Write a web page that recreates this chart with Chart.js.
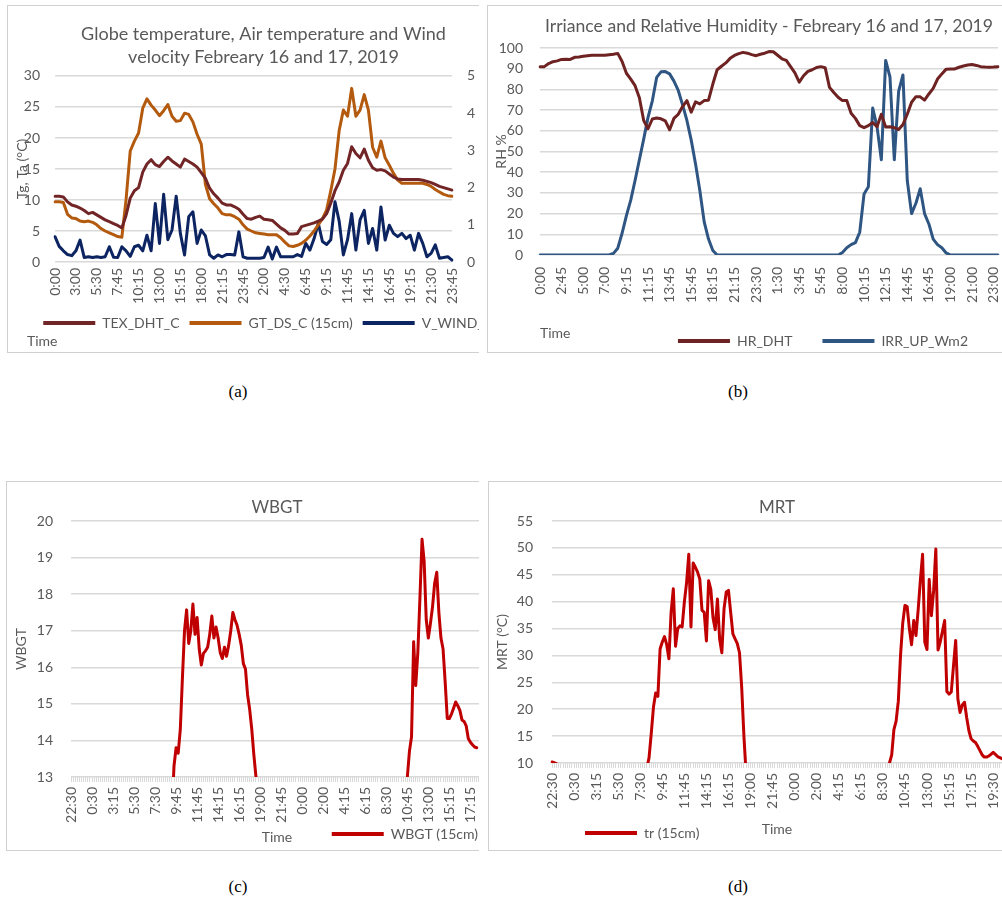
<!DOCTYPE html>
<html><head><meta charset="utf-8">
<script src="https://cdn.jsdelivr.net/npm/chart.js@4/dist/chart.umd.min.js"></script>
<style>
html,body{margin:0;padding:0;background:#fff;width:1002px;height:903px;overflow:hidden;}
.panel{position:absolute;border:1px solid #d0d0d0;overflow:hidden;background:#fff;box-sizing:border-box;}
.panel canvas{position:absolute;left:-1px;top:-1px;}
.cap{position:absolute;font-family:"Liberation Serif","Times New Roman",serif;font-size:17px;color:#000;transform:translateX(-50%);line-height:20px;}
</style></head><body>
<div class="panel" style="left:7px;top:5px;width:472px;height:348px;border-right:none;"><canvas id="ca" width="493" height="347"></canvas></div>
<div class="panel" style="left:487px;top:5px;width:540px;height:348px;"><canvas id="cb" width="530" height="347"></canvas></div>
<div class="panel" style="left:6px;top:481px;width:473px;height:370px;border-right:none;"><canvas id="cc" width="477" height="369"></canvas></div>
<div class="panel" style="left:488px;top:481px;width:540px;height:370px;"><canvas id="cd" width="514" height="369"></canvas></div>
<div class="cap" style="left:238px;top:382px;">(a)</div>
<div class="cap" style="left:738px;top:382px;">(b)</div>
<div class="cap" style="left:238px;top:877px;">(c)</div>
<div class="cap" style="left:738px;top:877px;">(d)</div>
<script>
// ---------- (a) Globe temperature, air temperature, wind ----------
const aTickLabels = ['0:00','3:00','5:30','7:45','10:15','13:00','15:15','18:00','21:15','23:45','2:00','4:30','6:45','9:15','11:45','14:15','16:45','19:15','21:30','23:45'];
const aTex = [10.6,10.6,10.5,9.7,9.2,9.0,8.7,8.3,7.8,8.0,7.6,7.2,6.8,6.5,6.2,5.9,5.5,7.5,10.3,11.5,
  12.0,14.5,15.8,16.5,15.7,15.4,16.2,16.9,16.3,15.8,15.3,16.6,16.2,15.8,15.3,14.4,13.5,11.9,11.0,10.3,
  9.5,9.2,9.2,8.9,8.5,7.7,7.0,6.9,7.2,7.4,6.9,6.8,6.7,6.1,5.5,5.1,4.5,4.5,4.6,5.7,
  5.9,6.1,6.3,6.6,6.9,7.8,9.5,11.5,12.9,14.8,15.9,18.6,17.5,16.8,18.2,16.4,15.2,14.8,14.9,14.7,
  14.2,13.7,13.4,13.3,13.3,13.3,13.3,13.3,13.2,13.0,12.8,12.5,12.2,12.0,11.8,11.6];
const aGt = [9.7,9.7,9.6,7.7,7.1,7.0,6.6,6.5,6.6,6.4,6.0,5.4,5.0,4.7,4.4,4.1,4.0,10.0,17.9,19.5,
  20.8,24.8,26.3,25.3,24.5,23.6,24.4,25.4,23.5,22.7,22.8,24.0,23.8,22.6,20.6,19.0,12.5,10.2,9.4,8.7,
  7.8,7.6,7.6,7.3,6.9,6.0,5.3,5.0,4.7,4.6,4.5,4.4,4.4,4.4,3.9,3.2,2.6,2.5,2.7,3.0,
  3.5,4.2,5.0,6.0,7.0,8.4,11.5,15.0,21.2,24.5,23.5,28.0,23.5,24.5,27.0,24.5,18.5,16.9,19.5,16.8,
  15.6,14.3,13.2,12.7,12.7,12.7,12.7,12.7,12.7,12.5,12.2,11.7,11.3,10.9,10.7,10.6];
const aWind = [0.68,0.42,0.3,0.2,0.17,0.3,0.59,0.12,0.14,0.12,0.14,0.12,0.14,0.41,0.13,0.12,0.41,0.3,0.15,0.41,
  0.45,0.3,0.72,0.3,1.57,0.5,1.82,0.6,0.86,1.77,0.77,0.19,1.22,1.35,0.5,0.86,0.7,0.19,0.1,0.19,
  0.14,0.2,0.2,0.19,0.81,0.14,0.1,0.1,0.1,0.1,0.12,0.4,0.08,0.4,0.14,0.14,0.14,0.14,0.2,0.15,
  0.5,0.32,0.63,1.04,0.55,0.47,0.6,1.62,1.1,0.19,0.6,1.3,0.32,1.13,1.39,0.5,0.9,0.32,1.48,0.59,
  0.99,0.77,0.68,0.77,0.63,0.72,0.32,0.77,0.5,0.14,0.23,0.46,0.1,0.12,0.14,0.05];

// ---------- (b) Irradiance and relative humidity ----------
const bTickLabels = ['0:00','2:45','5:00','7:00','9:15','11:15','13:45','15:45','18:15','21:15','23:30','1:30','3:45','5:45','8:00','10:15','12:15','14:45','16:45','19:00','21:00','23:00'];
const bHr = [91,91,92.5,93.4,93.8,94.5,94.6,94.5,95.5,95.7,
  96,96.3,96.5,96.5,96.5,96.5,96.8,97,97.4,93.5,
  87.8,85,81.8,76,65,61,65.7,66.2,65.8,64.8,
  60.5,66,68,71.7,74.6,69,74,73,74.6,74.8,
  82.6,89.5,91.2,92.8,95,96.4,97.3,97.9,97.5,96.8,
  96.3,97,97.5,98.3,98.2,96.5,94.8,94,91,88,
  83.5,86.6,88.7,89.5,90.6,91,90.5,81,78.5,76.2,
  74.6,74.6,68.5,66,62.5,61.5,62.5,64,62,68,
  61.8,62,61.5,60.6,63,68,73.8,76.5,76.4,74.8,
  77.8,80.5,85,87.5,89.8,89.9,89.9,90.7,91.3,91.8,
  92,91.6,91,90.8,90.7,90.8,91];
const bIrr = [0,0,0,0,0,0,0,0,0,0,
  0,0,0,0,0,0,0,0.8,3.3,10.5,
  19,26.5,36,46,56,66.5,74.5,85.8,88.5,88.6,
  87.5,84,79.5,72.5,65,55.5,44,31,16,7.7,
  2.2,0,0,0,0,0,0,0,0,0,
  0,0,0,0,0,0,0,0,0,0,
  0,0,0,0,0,0,0,0,0,0,
  1.2,3.5,5,6,11,29.5,33,71,62,46,
  94,86,46,79,87,36,20,25,32,20,
  15,7.7,5,3.5,1,0,0,0,0,0,
  0,0,0,0,0,0,0];

// ---------- (c) WBGT ----------
const cTickLabels = ['22:30','0:30','3:15','5:30','7:30','9:45','11:45','14:15','16:15','19:00','21:45','0:00','2:00','4:15','6:15','8:30','10:45','13:00','15:15','17:15'];
const cWbgt = [null,null,null,null,null,null,null,null,null,null,
  null,null,null,null,null,null,null,null,null,null,
  null,null,null,null,null,null,null,null,null,null,
  null,null,null,null,null,null,null,null,null,null,
  null,null,null,null,null,null,null,null,
  12.0,13.3,13.8,13.65,14.3,15.7,17.0,17.57,16.65,17.0,17.73,16.9,17.36,16.5,16.06,16.38,16.45,16.55,16.9,17.4,
  16.8,17.1,16.8,16.4,16.24,16.55,16.3,16.6,17.0,17.5,17.3,17.15,16.9,16.6,16.1,15.95,15.25,14.85,14.3,13.6,
  13.0,12.2,
  null,null,null,null,null,null,null,null,null,null,
  null,null,null,null,null,null,null,null,null,null,
  null,null,null,null,null,null,null,null,null,null,
  null,null,null,null,null,null,null,null,null,null,
  null,null,null,null,null,null,null,null,null,null,
  null,null,null,null,null,null,null,null,null,null,
  null,null,null,null,null,null,null,null,null,
  12.0,13.0,13.7,14.1,16.7,15.5,16.4,17.9,19.5,18.9,17.3,16.8,17.2,17.66,18.3,18.6,17.5,16.8,16.5,15.6,
  14.6,14.6,14.72,14.88,15.05,14.95,14.82,14.56,14.52,14.4,14.05,13.95,13.88,13.82,13.8,
  null,null,null];

// ---------- (d) MRT ----------
const dTickLabels = ['22:30','0:30','3:15','5:30','7:30','9:45','11:45','14:15','16:15','19:00','21:45','0:00','2:00','4:15','6:15','8:30','10:45','13:00','15:15','17:15','19:30'];
const dMrt = [10.2,10.05,9.9,9.5,
  null,null,null,null,null,null,null,null,null,null,
  null,null,null,null,null,null,null,null,null,null,
  null,null,null,null,null,null,null,null,null,null,
  null,null,null,null,null,null,null,null,null,
  9.0,11,15.5,20.4,23,22.4,31.2,32.5,33.5,32,29.4,38,42.4,31.7,35,35.5,35.3,39.9,43.5,48.8,
  35.3,47.2,46.4,45.5,44.2,38.4,38,32.7,43.9,42.3,37,34.8,40.5,33,30.5,38.7,41.8,42.1,38,34,
  33.1,32.2,30.5,24,15,8,
  null,null,null,null,null,null,null,null,null,null,
  null,null,null,null,null,null,null,null,null,null,
  null,null,null,null,null,null,null,null,null,null,
  null,null,null,null,null,null,null,null,null,null,
  null,null,null,null,null,null,null,null,null,null,
  null,null,null,null,null,null,null,null,null,null,
  null,null,null,
  8.5,10,11.5,16.2,17.8,21.5,30,36,39.3,39.1,35,32,36.5,33.7,38.5,44,48.8,32.5,31.1,44.1,
  37.4,42,49.8,31,32.5,34.5,36.5,23.3,22.8,23.2,28,32.8,21.9,19.4,20.8,21.3,18.4,16,14.5,14.1,
  13.8,13.1,12.3,11.5,11.1,11.1,11.3,11.6,12,11.6,11.2,11,10.8];

// ---------- common ----------
Chart.defaults.font.family = 'Lato';
Chart.defaults.font.size = 14;
Chart.defaults.color = '#595959';
const GRID = '#d9d9d9';
const TXT = '#595959';

function categories(tickLabels, count, step) {
  return Array.from({length: count}, (_, i) => (i % step === 0 && tickLabels[i / step] !== undefined) ? tickLabels[i / step] : '');
}
function lineDs(label, data, color, axis) {
  return {label, data, borderColor: color, backgroundColor: color, yAxisID: axis || 'y',
    borderWidth: 3, pointRadius: 0, pointHoverRadius: 0, pointBorderWidth: 4,
    tension: 0, fill: false, spanGaps: false, borderCapStyle: 'round', borderJoinStyle: 'round'};
}
function legendOpts(extra, pad) {
  return Object.assign({position: 'bottom', labels: {usePointStyle: true, pointStyle: 'line', pointStyleWidth: 52,
    color: TXT, font: {size: 14}, padding: pad}}, extra);
}
// fixed box sizes for the axes; labels are allowed to spill outside the axis box
function xFit(h) { return s => { s.height = h; s.paddingRight = 0; s._computeLabelArea = () => undefined; }; }
function yFit(w) { return s => { s.width = w; s._computeLabelArea = () => undefined; }; }

// (a)
new Chart(document.getElementById('ca'), {
  type: 'line',
  data: {labels: categories(aTickLabels, aTex.length, 5), datasets: [
    lineDs('TEX_DHT_C', aTex, '#722526'),
    lineDs('GT_DS_C (15cm)', aGt, '#B35A0F'),
    lineDs('V_WIND_', aWind, '#0C2461', 'y1')]},
  options: {
    responsive: false, animation: false, events: [],
    layout: {padding: {left: 20, right: 0, top: 0, bottom: 0}},
    plugins: {
      title: {display: true, text: ['Globe temperature, Air temperature and Wind', 'velocity Febreary 16 and 17, 2019'],
        color: TXT, font: {size: 18, weight: 'normal', lineHeight: 1.28}, padding: {top: 17.5, bottom: 7.4}},
      subtitle: {display: true, position: 'bottom', align: 'start', text: 'Time', color: TXT,
        font: {size: 14, weight: 'normal'}, padding: {top: -7.4, bottom: 2.6}},
      legend: legendOpts({align: 'center'}, 10),
      tooltip: {enabled: false}
    },
    scales: {
      x: {grid: {display: false, drawTicks: false}, border: {display: false},
        ticks: {autoSkip: false, maxRotation: 90, minRotation: 90, padding: 6},
        afterFit: xFit(44)},
      y: {position: 'left', min: 0, max: 30, ticks: {stepSize: 5, padding: 15},
        grid: {color: GRID, lineWidth: 1.5, drawTicks: false}, border: {display: false},
        title: {display: true, text: 'Tg, Ta (°C)', color: TXT, font: {size: 14}, padding: {top: -13.4, bottom: 0}},
        afterFit: yFit(28)},
      y1: {position: 'right', min: 0, max: 5, ticks: {stepSize: 1, padding: 15},
        grid: {display: false, drawOnChartArea: false, drawTicks: false}, border: {display: false},
        afterFit: yFit(48)}
    }
  }
});

// (b)
new Chart(document.getElementById('cb'), {
  type: 'line',
  data: {labels: categories(bTickLabels, bHr.length, 5), datasets: [
    lineDs('HR_DHT', bHr, '#6E2222'),
    lineDs('IRR_UP_Wm2', bIrr, '#2F5583')]},
  options: {
    responsive: false, animation: false, events: [],
    layout: {padding: {left: 0, right: 19, top: 0, bottom: 0}},
    plugins: {
      title: {display: true, fullSize: false, text: 'Irriance and Relative Humidity - Febreary 16 and 17, 2019',
        color: TXT, font: {size: 17.6, weight: 'normal', lineHeight: 1.2}, padding: {top: 10.4, bottom: 11.5}},
      legend: legendOpts({align: 'end', fullSize: false, maxHeight: 48}, 30),
      tooltip: {enabled: false}
    },
    scales: {
      x: {grid: {display: false, drawTicks: false}, border: {display: false},
        ticks: {autoSkip: false, maxRotation: 90, minRotation: 90, padding: 12},
        title: {display: true, text: 'Time', align: 'start', color: TXT, font: {size: 14}, padding: {top: 0, bottom: -37.4}},
        afterFit: xFit(49)},
      y: {min: 0, max: 100, ticks: {stepSize: 10, padding: 17},
        grid: {color: GRID, lineWidth: 1.5, drawTicks: false}, border: {display: false},
        title: {display: true, text: 'RH %', color: TXT, font: {size: 14}, padding: {top: 5.6, bottom: 0}},
        afterFit: yFit(53)}
    }
  }
});

// (c)
new Chart(document.getElementById('cc'), {
  type: 'line',
  data: {labels: categories(cTickLabels, cWbgt.length, 10), datasets: [
    lineDs('WBGT (15cm)', cWbgt, '#C00000')]},
  options: {
    responsive: false, animation: false, events: [],
    plugins: {
      title: {display: true, fullSize: false, text: 'WBGT', color: TXT,
        font: {size: 17, weight: 'normal', lineHeight: 1.2}, padding: {top: 16.8, bottom: 2.8}},
      legend: legendOpts({align: 'end', fullSize: false, maxHeight: 28}, 5),
      tooltip: {enabled: false}
    },
    scales: {
      x: {grid: {display: true, drawOnChartArea: false, drawTicks: true, tickLength: 5, color: GRID, lineWidth: 1},
        border: {display: false},
        ticks: {autoSkip: false, maxRotation: 90, minRotation: 90, padding: 5},
        title: {display: true, text: 'Time', align: 'center', color: TXT, font: {size: 14}, padding: {top: 0, bottom: -23.4}},
        afterFit: xFit(45)},
      y: {min: 13, max: 20, ticks: {stepSize: 1, padding: 18},
        grid: {color: GRID, lineWidth: 1.5, drawTicks: false}, border: {display: false},
        title: {display: true, text: 'WBGT', color: TXT, font: {size: 14}, padding: {top: 6.6, bottom: 0}},
        afterFit: yFit(65)}
    }
  }
});

// (d)
new Chart(document.getElementById('cd'), {
  type: 'line',
  data: {labels: categories(dTickLabels, dMrt.length, 10), datasets: [
    lineDs('tr (15cm)', dMrt, '#C00000')]},
  options: {
    responsive: false, animation: false, events: [],
    plugins: {
      title: {display: true, fullSize: false, text: 'MRT', color: TXT,
        font: {size: 17, weight: 'normal', lineHeight: 1.2}, padding: {top: 16.8, bottom: 2.8}},
      legend: legendOpts({align: 'start', fullSize: false}, 33),
      tooltip: {enabled: false}
    },
    scales: {
      x: {grid: {display: true, drawOnChartArea: false, drawTicks: true, tickLength: 5, color: GRID, lineWidth: 1},
        border: {display: false},
        ticks: {autoSkip: false, maxRotation: 90, minRotation: 90, padding: 5},
        title: {display: true, text: 'Time', align: 'center', color: TXT, font: {size: 14}, padding: {top: 0, bottom: -44.4}},
        afterFit: xFit(30)},
      y: {min: 10, max: 55, ticks: {stepSize: 5, padding: 19},
        grid: {color: GRID, lineWidth: 1.5, drawTicks: false}, border: {display: false},
        title: {display: true, text: 'MRT (°C)', color: TXT, font: {size: 14}, padding: {top: 5.6, bottom: 0}},
        afterFit: yFit(64)}
    }
  }
});
</script>
</body></html>
